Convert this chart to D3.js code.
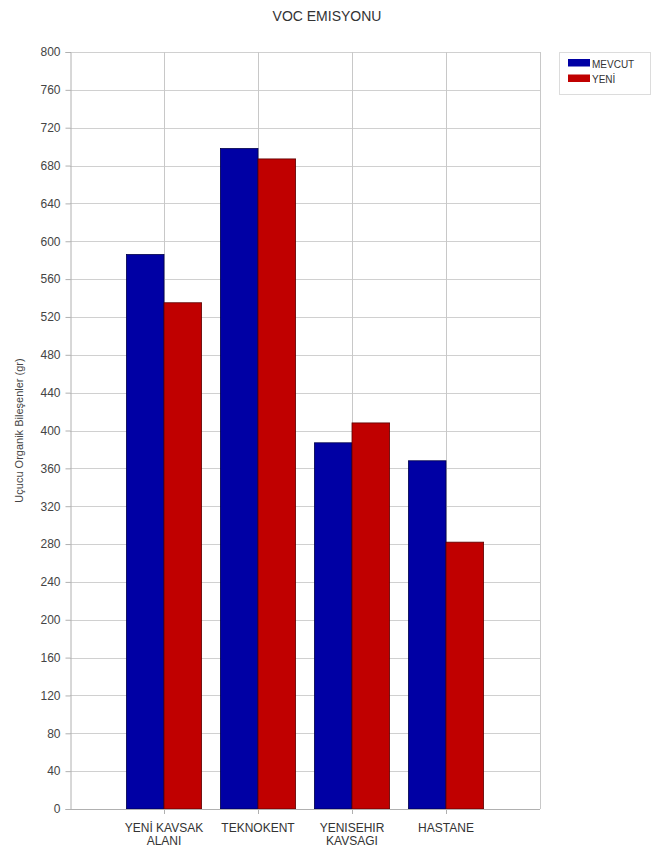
<!DOCTYPE html>
<html>
<head>
<meta charset="utf-8">
<script src="https://cdn.jsdelivr.net/npm/d3@7"></script>
<style>
  body { margin: 0; background: #fff; }
  svg { display: block; font-family: "Liberation Sans", Arial, sans-serif; }
</style>
</head>
<body>
<svg id="chart" width="654" height="847"></svg>
<script>
// Chart data
const categories = [["YENİ KAVSAK", "ALANI"], ["TEKNOKENT"], ["YENISEHIR", "KAVSAGI"], ["HASTANE"]];
const seriesNames = ["MEVCUT", "YENİ"];
const mevcut = [586, 698, 387, 368];
const yeni = [535, 687, 408, 282];
const yTicks = d3.range(0, 801, 40);
const colors = ["#0000a4", "#c00000"];
const strokes = ["#00004a", "#5a0000"];

const svg = d3.select("#chart");
const plotL = 70, plotR = 540, plotT = 52, plotB = 809;

// Category slots: categories sit at positions 1..4 on a 0..5 axis
const x = d3.scaleLinear().domain([0, categories.length + 1]).range([plotL, plotR]);
const y = d3.scaleLinear().domain([0, 800]).range([plotB, plotT]);
const slot = x(1) - x(0);
const barW = slot * 0.4;

// Title
svg.append("text")
  .attr("x", 327).attr("y", 21)
  .attr("text-anchor", "middle")
  .attr("font-size", 14).attr("fill", "#333")
  .text("VOC EMISYONU");

// Horizontal grid
svg.append("g").selectAll("line").data(yTicks).join("line")
  .attr("x1", plotL).attr("x2", plotR)
  .attr("y1", d => Math.round(y(d)) + 0.5).attr("y2", d => Math.round(y(d)) + 0.5)
  .attr("stroke", "#d0d0d0");

// Vertical grid at category positions and right border
svg.append("g").selectAll("line").data(d3.range(1, categories.length + 2)).join("line")
  .attr("x1", d => Math.round(x(d)) + 0.5).attr("x2", d => Math.round(x(d)) + 0.5)
  .attr("y1", plotT).attr("y2", plotB)
  .attr("stroke", "#c8c8c8");

// Bars
[mevcut, yeni].forEach((vals, s) => {
  svg.append("g").selectAll("rect").data(vals).join("rect")
    .attr("x", (d, i) => x(i + 1) - barW + s * barW)
    .attr("y", d => y(d))
    .attr("width", barW)
    .attr("height", d => y(0) - y(d))
    .attr("fill", colors[s])
    .attr("stroke", strokes[s])
    .attr("stroke-width", 0.8);
});

// Y axis
const yAxis = svg.append("g")
  .attr("transform", `translate(${plotL + 0.5},0)`)
  .call(d3.axisLeft(y).tickValues(yTicks).tickSize(5).tickPadding(5));
yAxis.select(".domain").attr("stroke", "#b0b0b0");
yAxis.selectAll(".tick line").attr("stroke", "#b0b0b0");
yAxis.selectAll(".tick text").attr("font-size", 12).attr("fill", "#444")
  .attr("font-family", "Liberation Sans, Arial, sans-serif");

// X axis line and ticks
svg.append("line")
  .attr("x1", plotL).attr("x2", plotR)
  .attr("y1", plotB + 0.5).attr("y2", plotB + 0.5)
  .attr("stroke", "#b0b0b0");
svg.append("g").selectAll("line").data(categories.map((c, i) => i + 1)).join("line")
  .attr("x1", d => Math.round(x(d)) + 0.5).attr("x2", d => Math.round(x(d)) + 0.5)
  .attr("y1", plotB).attr("y2", plotB + 5)
  .attr("stroke", "#b0b0b0");

// Category labels
const lbl = svg.append("g").selectAll("text").data(categories).join("text")
  .attr("x", (d, i) => x(i + 1))
  .attr("y", 832)
  .attr("text-anchor", "middle")
  .attr("font-size", 12).attr("fill", "#333");
lbl.selectAll("tspan").data(d => d).join("tspan")
  .attr("x", function() { return d3.select(this.parentNode).attr("x"); })
  .attr("dy", (d, i) => i === 0 ? 0 : 13)
  .text(d => d);

// Y axis title
svg.append("text")
  .attr("transform", `translate(23,${(plotT + plotB) / 2}) rotate(-90)`)
  .attr("text-anchor", "middle")
  .attr("font-size", 11).attr("fill", "#444")
  .text("Uçucu Organik Bileşenler (gr)");

// Legend
const lg = svg.append("g");
lg.append("rect")
  .attr("x", 559.5).attr("y", 52.5).attr("width", 91).attr("height", 42)
  .attr("fill", "#fff").attr("stroke", "#dcdcdc");
seriesNames.forEach((n, s) => {
  lg.append("rect")
    .attr("x", 568).attr("y", 59 + s * 15.5).attr("width", 22).attr("height", 7.5)
    .attr("fill", colors[s]);
  lg.append("text")
    .attr("x", 592).attr("y", 67.5 + s * 15)
    .attr("font-size", 10).attr("fill", "#333")
    .text(n);
});
</script>
</body>
</html>
